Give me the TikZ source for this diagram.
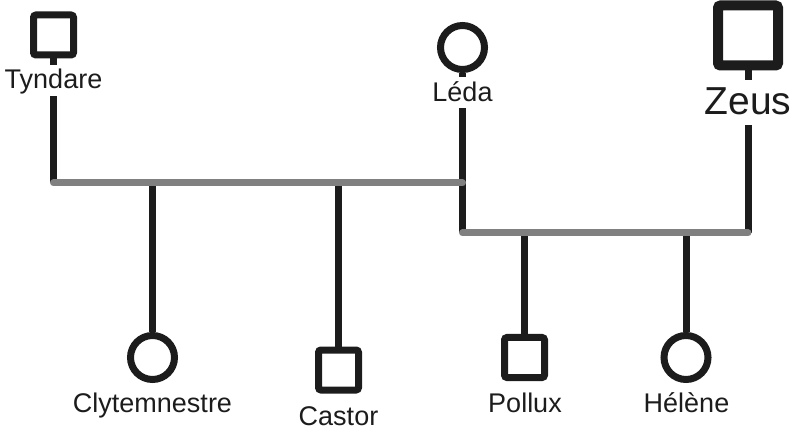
\documentclass[tikz,border=0pt]{standalone}
\usepackage{fontspec}
\setmainfont{Liberation Sans}
\definecolor{ink}{HTML}{1C1C1C}
\definecolor{bar}{HTML}{808080}
\begin{document}
\begin{tikzpicture}[x=1pt,y=-1pt,
  male/.style={draw=ink,line width=7pt,rounded corners=2.5pt,minimum size=40pt,inner sep=0pt,shape=rectangle},
  female/.style={draw=ink,line width=7pt,circle,minimum size=44pt,inner sep=0pt},
  parentlabel/.style={font=\fontsize{27}{30}\selectfont,text=ink,anchor=base,inner xsep=2pt,inner ysep=0pt,text height=24pt,text depth=7pt},
  childlabel/.style={font=\fontsize{27}{30}\selectfont,text=ink,anchor=base,inner sep=0pt},
  stem/.style={draw=ink,line width=7pt},
  couple/.style={draw=bar,line width=7pt,line cap=round}]
\useasboundingbox (0,0) rectangle (808,435);
% parents
\node[male] (T) at (53.5,35) {};
\node[parentlabel] (Tl) at (53.5,89) {Tyndare};
\node[female] (L) at (462.5,47.5) {};
\node[parentlabel,text height=25pt,text depth=6pt] (Ll) at (462.5,102) {Léda};
\node[male,line width=10pt,minimum size=60pt] (Z) at (748,35.5) {};
\node[parentlabel,font=\fontsize{39}{44}\selectfont,text height=35pt,text depth=10pt] (Zl) at (748,115) {Zeus};
% junctions
\coordinate (Tj) at (53.5,183);
\coordinate (Lj) at (462.5,183);
\coordinate (Lk) at (462.5,233);
\coordinate (Zj) at (748,233);
\coordinate (Cj) at (152.5,183);
\coordinate (Aj) at (338.5,183);
\coordinate (Pj) at (524.5,233);
\coordinate (Hj) at (686,233);
% children
\node[female] (C) at (152.5,357.5) {};
\node[childlabel] (Cl) at (152.5,412) {Clytemnestre};
\node[male] (A) at (338.5,370) {};
\node[childlabel] (Al) at (338.5,425) {Castor};
\node[male] (P) at (524.5,357.5) {};
\node[childlabel] (Pl) at (525,412) {Pollux};
\node[female] (H) at (686,357.5) {};
\node[childlabel] (Hl) at (686.5,412) {Hélène};
% stems
\draw[stem] (T.south) -- (Tl.north);
\draw[stem] (Tl.south) -- (Tj);
\draw[stem] (L.south) -- (Ll.north);
\draw[stem] (Ll.south) -- (Lk);
\draw[stem] (Z.south) -- (Zl.north);
\draw[stem] (Zl.south) -- (Zj);
\draw[stem] (Cj) -- (C.north);
\draw[stem] (Aj) -- (A.north);
\draw[stem] (Pj) -- (P.north);
\draw[stem] (Hj) -- (H.north);
% couple bars
\draw[couple] (Tj) -- (Lj);
\draw[couple] (Lk) -- (Zj);
\end{tikzpicture}
\end{document}
